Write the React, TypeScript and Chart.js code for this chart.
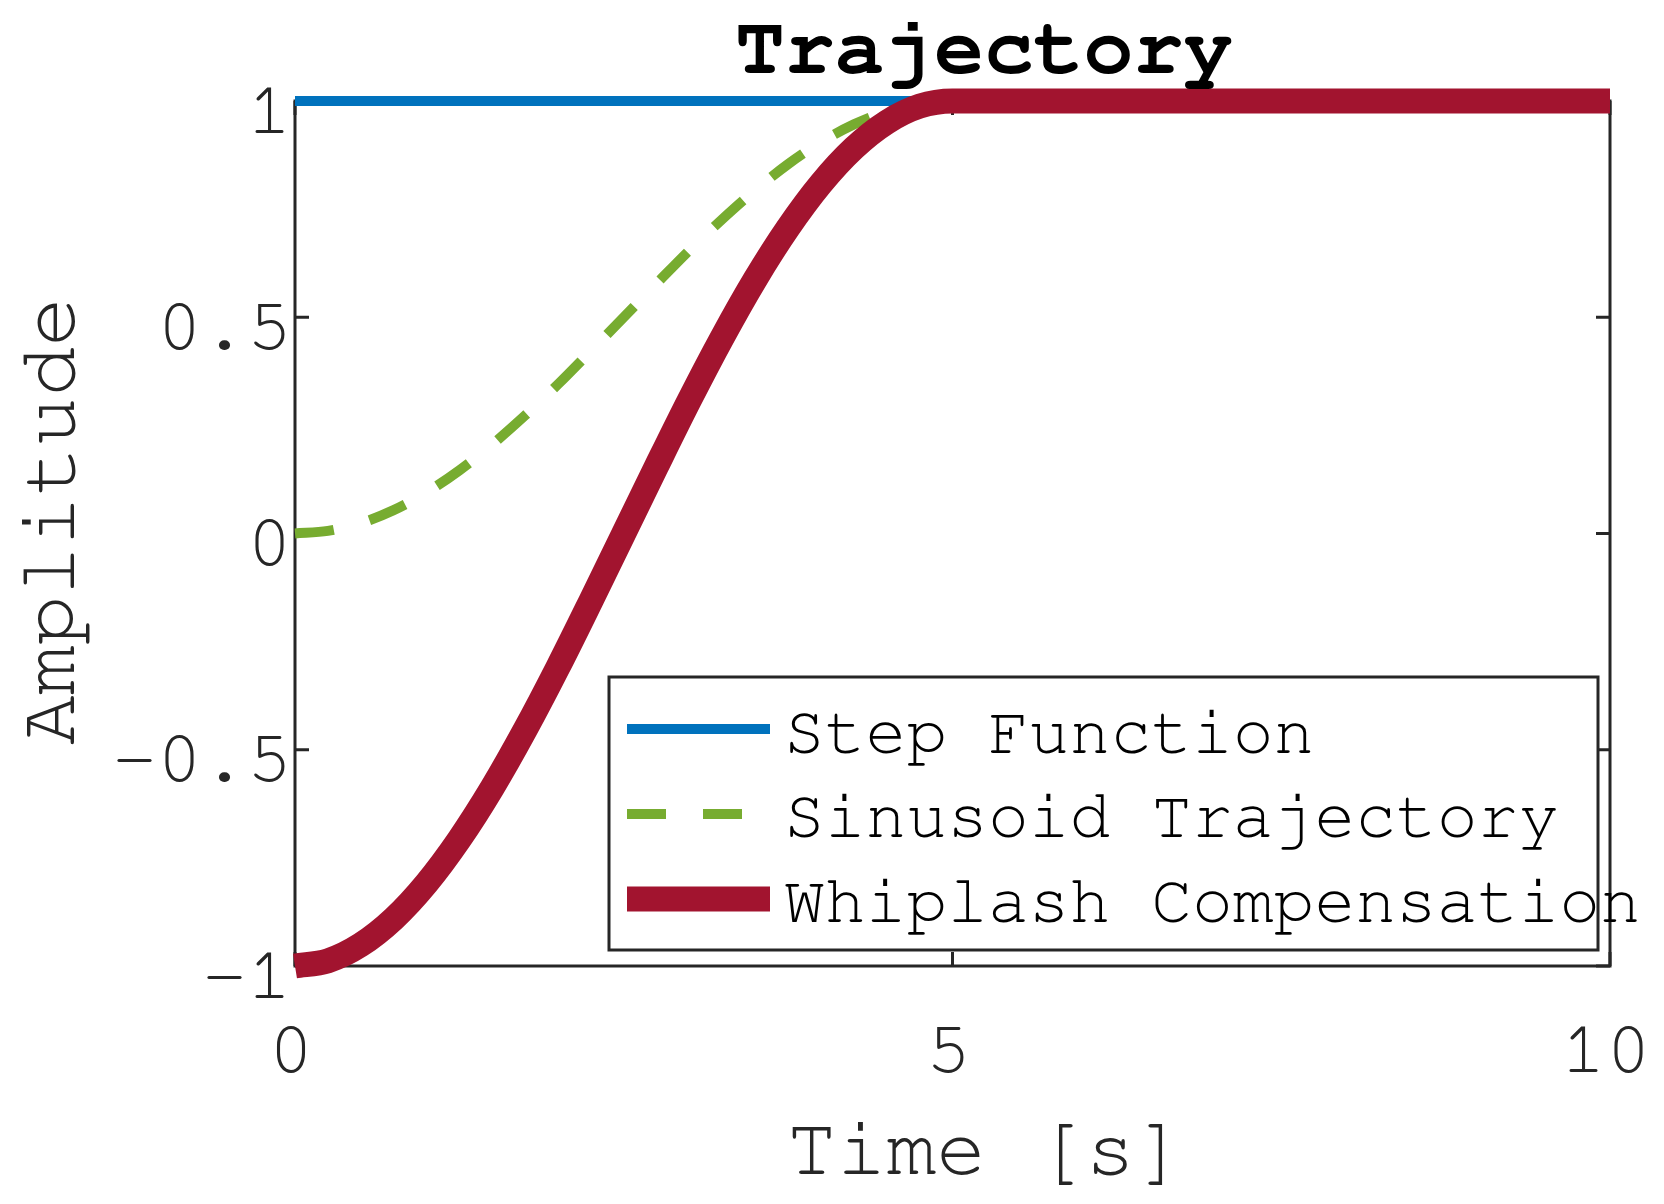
import React, { useEffect, useRef } from "react";
import { Chart, registerables } from "chart.js";

Chart.register(...registerables);

// ---- data ----
const timeSamples = [
  0, 0.25, 0.5, 0.75, 1, 1.25, 1.5, 1.75, 2, 2.25, 2.5, 2.75, 3, 3.25, 3.5,
  3.75, 4, 4.25, 4.5, 4.75, 5, 10,
];
const stepValues = [
  1, 1, 1, 1, 1, 1, 1, 1, 1, 1, 1, 1, 1, 1, 1, 1, 1, 1, 1, 1, 1, 1,
];
const sinusoidValues = [
  0, 0.006, 0.024, 0.054, 0.095, 0.146, 0.206, 0.273, 0.345, 0.422, 0.5,
  0.578, 0.655, 0.727, 0.794, 0.854, 0.905, 0.946, 0.976, 0.994, 1, 1,
];
const whiplashValues = [
  -1, -0.988, -0.951, -0.891, -0.809, -0.707, -0.588, -0.454, -0.309, -0.156,
  0, 0.156, 0.309, 0.454, 0.588, 0.707, 0.809, 0.891, 0.951, 0.988, 1, 1,
];
const seriesLabels = ["Step Function", "Sinusoid Trajectory", "Whiplash Compensation"];
const xTickValues = [0, 5, 10];
const yTickValues = [-1, -0.5, 0, 0.5, 1];
const chartTitle = "Trajectory";
const xAxisTitle = "Time [s]";
const yAxisTitle = "Amplitude";

const MONO = "'Nimbus Mono PS', 'Nimbus Mono L', 'FreeMono', 'Courier New', 'Liberation Mono', monospace";
const AXIS_COLOR = "#262626";

const toPoints = (ys: number[]) => timeSamples.map((t, i) => ({ x: t, y: ys[i] }));

const matlabPlugin = {
  id: "matlabFrame",
  beforeDatasetsDraw(chart: any) {
    const { ctx, chartArea: a, scales } = chart;
    ctx.save();
    ctx.strokeStyle = AXIS_COLOR;
    ctx.lineWidth = 3;
    ctx.strokeRect(a.left, a.top, a.right - a.left, a.bottom - a.top);
    const tl = 14;
    ctx.beginPath();
    for (const v of yTickValues) {
      const y = scales.y.getPixelForValue(v);
      ctx.moveTo(a.left, y);
      ctx.lineTo(a.left + tl, y);
      ctx.moveTo(a.right, y);
      ctx.lineTo(a.right - tl, y);
    }
    for (const v of xTickValues) {
      const x = scales.x.getPixelForValue(v);
      ctx.moveTo(x, a.bottom);
      ctx.lineTo(x, a.bottom - tl);
      ctx.moveTo(x, a.top);
      ctx.lineTo(x, a.top + tl);
    }
    ctx.stroke();
    ctx.restore();
  },
  afterDraw(chart: any) {
    const { ctx } = chart;
    ctx.save();
    // title
    ctx.fillStyle = "#000";
    ctx.font = `bold 83px ${MONO}`;
    ctx.textAlign = "center";
    ctx.textBaseline = "alphabetic";
    ctx.fillText(chartTitle, 984, 73);
    // x axis title
    ctx.fillStyle = AXIS_COLOR;
    ctx.font = `83px ${MONO}`;
    ctx.fillText(xAxisTitle, 986, 1174);
    // y axis title
    ctx.save();
    ctx.translate(74, 521);
    ctx.rotate(-Math.PI / 2);
    ctx.fillText(yAxisTitle, 0, 0);
    ctx.restore();

    // legend
    const bx = 609, by = 677, bw = 989, bh = 273;
    ctx.fillStyle = "#fff";
    ctx.fillRect(bx, by, bw, bh);
    ctx.strokeStyle = AXIS_COLOR;
    ctx.lineWidth = 3;
    ctx.strokeRect(bx, by, bw, bh);
    const rowLine = [729, 814, 899];
    const rowText = [753, 837, 922];
    ctx.font = `68px ${MONO}`;
    ctx.textAlign = "left";
    ctx.textBaseline = "alphabetic";
    const dsOrder = [0, 1, 2];
    dsOrder.forEach((di, r) => {
      const ds = chart.data.datasets[di];
      ctx.save();
      ctx.strokeStyle = ds.borderColor;
      ctx.lineWidth = ds.borderWidth;
      ctx.lineCap = "butt";
      ctx.setLineDash(ds.borderDash || []);
      ctx.beginPath();
      ctx.moveTo(627, rowLine[r]);
      ctx.lineTo(770, rowLine[r]);
      ctx.stroke();
      ctx.restore();
      ctx.fillStyle = "#000";
      ctx.fillText(ds.label, 784, rowText[r]);
    });
    ctx.restore();
  },
};

export default function App() {
  const canvasRef = useRef<HTMLCanvasElement | null>(null);

  useEffect(() => {
    const canvas = canvasRef.current;
    if (!canvas) return;
    const chart = new Chart(canvas, {
      type: "line",
      data: {
        datasets: [
          {
            label: seriesLabels[0],
            data: toPoints(stepValues),
            borderColor: "#0072BD",
            borderWidth: 10,
            pointRadius: 0,
            clip: false as any,
            order: 3,
          },
          {
            label: seriesLabels[1],
            data: toPoints(sinusoidValues),
            borderColor: "#77AC30",
            borderWidth: 10,
            borderDash: [39, 37],
            pointRadius: 0,
            cubicInterpolationMode: "monotone",
            clip: false as any,
            order: 2,
          },
          {
            label: seriesLabels[2],
            data: toPoints(whiplashValues),
            borderColor: "#A2142F",
            borderWidth: 25,
            pointRadius: 0,
            cubicInterpolationMode: "monotone",
            borderJoinStyle: "round",
            clip: false as any,
            order: 1,
          },
        ],
      },
      options: {
        responsive: false,
        animation: false,
        events: [],
        layout: { padding: { left: 0, right: 54, top: 101, bottom: 0 } },
        plugins: {
          legend: { display: false },
          tooltip: { enabled: false },
          title: { display: false },
        },
        scales: {
          x: {
            type: "linear",
            min: 0,
            max: 10,
            border: { display: false },
            grid: { display: false, drawTicks: false },
            afterBuildTicks: (s: any) => {
              s.ticks = xTickValues.map((v) => ({ value: v }));
            },
            afterFit: (s: any) => {
              s.height = 238;
              s.paddingLeft = 0;
              s.paddingRight = 0;
            },
            ticks: {
              padding: 38,
              labelOffset: -4,
              color: AXIS_COLOR,
              font: { family: MONO, size: 75 },
              maxRotation: 0,
              autoSkip: false,
              callback: (v: any) => String(v),
            },
          },
          y: {
            type: "linear",
            min: -1,
            max: 1,
            border: { display: false },
            grid: { display: false, drawTicks: false },
            afterBuildTicks: (s: any) => {
              s.ticks = yTickValues.map((v) => ({ value: v }));
            },
            afterFit: (s: any) => {
              s.width = 295;
              s.paddingTop = 0;
              s.paddingBottom = 0;
            },
            ticks: {
              padding: 3,
              labelOffset: 9,
              color: AXIS_COLOR,
              font: { family: MONO, size: 75 },
              autoSkip: false,
              callback: (v: any) => String(v),
            },
          },
        },
      },
      plugins: [matlabPlugin],
    });
    return () => chart.destroy();
  }, []);

  return (
    <div style={{ position: "absolute", left: 0, top: 0, width: 1664, height: 1204, background: "#fff" }}>
      <canvas ref={canvasRef} width={1664} height={1204} style={{ display: "block" }} />
    </div>
  );
}
